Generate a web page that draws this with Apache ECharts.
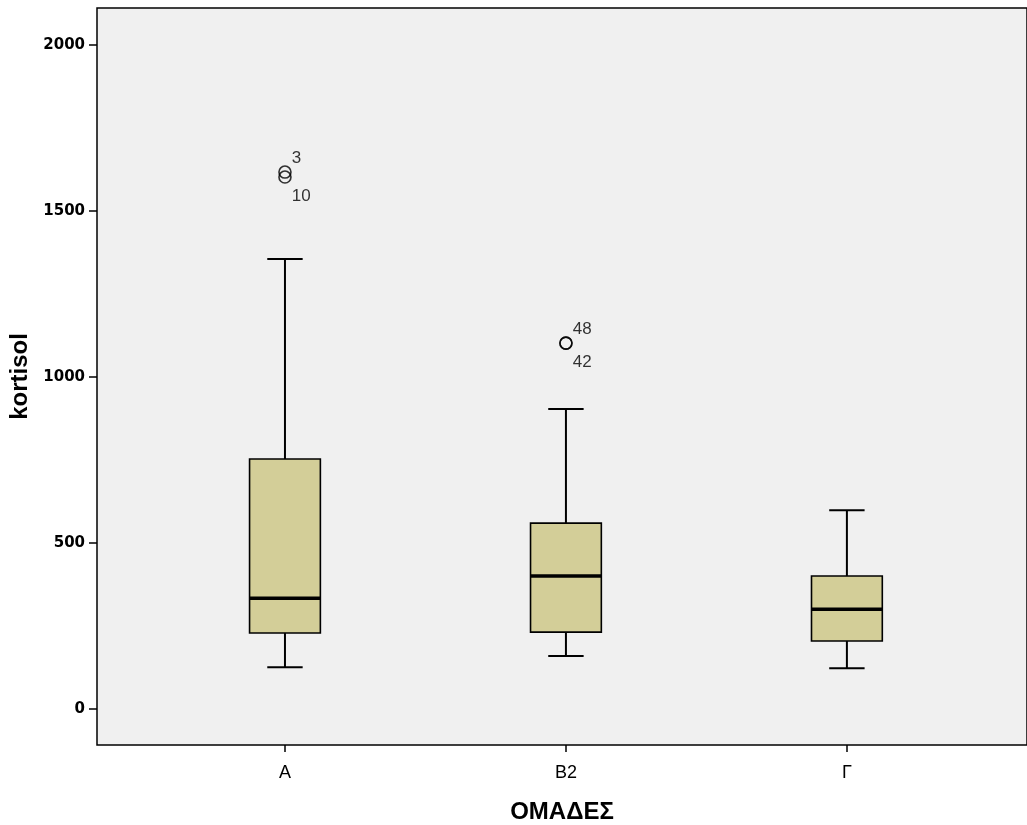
<!DOCTYPE html>
<html>
<head>
<meta charset="utf-8">
<script src="https://cdn.jsdelivr.net/npm/echarts@6/dist/echarts.min.js"></script>
<style>
  html, body { margin: 0; padding: 0; background: #fff; }
  #chart { width: 1027px; height: 825px; }
</style>
</head>
<body>
<div id="chart"></div>
<script>
// groups on the x axis (position 1, 2, 3)
var groups = ['A', 'B2', 'Γ'];
var whiskerLow = [126, 160, 123];
var q1 = [229, 232, 205];
var medians = [334, 401, 301];
var q3 = [753, 560, 401];
var whiskerHigh = [1355, 904, 599];

// outliers: group position, value, case id
var outlierGroup = [1, 1, 2, 2];
var outlierValues = [1617, 1602, 1102, 1102];
var outlierIds = ['3', '10', '48', '42'];

var yTicks = [0, 500, 1000, 1500, 2000];
var xTicks = [1, 2, 3];

(function() {
  var chart = echarts.init(document.getElementById('chart'), null, { renderer: 'canvas' });

  var boxData = groups.map(function(g, i) {
    return [i + 1, whiskerLow[i], q1[i], medians[i], q3[i], whiskerHigh[i]];
  });

  // first of each pair labelled above, second below
  var outlierData = outlierValues.map(function(v, i) {
    var above = i === 0 || outlierGroup[i - 1] !== outlierGroup[i];
    return {
      value: [outlierGroup[i], v],
      label: { offset: above ? [-2, -14] : [-2, 19] }
    };
  });

  function renderBox(params, api) {
    var x = api.value(0);
    var unit = api.size([1, 0])[0];
    var half = unit * 0.126;
    var cap = unit * 0.063;
    var lo = api.coord([x, api.value(1)]);
    var b1 = api.coord([x, api.value(2)]);
    var md = api.coord([x, api.value(3)]);
    var b3 = api.coord([x, api.value(4)]);
    var hi = api.coord([x, api.value(5)]);
    var cx = lo[0];
    var ls = { stroke: '#000', lineWidth: 2 };
    return {
      type: 'group',
      children: [
        { type: 'line', shape: { x1: cx, y1: hi[1], x2: cx, y2: b3[1] }, style: ls },
        { type: 'line', shape: { x1: cx, y1: b1[1], x2: cx, y2: lo[1] }, style: ls },
        { type: 'line', shape: { x1: cx - cap, y1: hi[1], x2: cx + cap, y2: hi[1] }, style: ls },
        { type: 'line', shape: { x1: cx - cap, y1: lo[1], x2: cx + cap, y2: lo[1] }, style: ls },
        {
          type: 'rect',
          shape: { x: cx - half, y: b3[1], width: half * 2, height: b1[1] - b3[1] },
          style: { fill: '#d3ce98', stroke: '#000', lineWidth: 1.6 }
        },
        { type: 'line', shape: { x1: cx - half, y1: md[1], x2: cx + half, y2: md[1] }, style: { stroke: '#000', lineWidth: 3.5 } }
      ]
    };
  }

  var option = {
    animation: false,
    backgroundColor: '#fff',
    grid: {
      left: 97, right: 0, top: 8, bottom: 80,
      outerBoundsMode: 'none',
      containLabel: false,
      show: true,
      backgroundColor: '#f0f0f0',
      borderColor: '#000',
      borderWidth: 1.5
    },
    xAxis: {
      type: 'value',
      min: 0.331,
      max: 3.641,
      name: 'ΟΜΑΔΕΣ',
      nameLocation: 'middle',
      nameGap: 55,
      nameTextStyle: { fontFamily: '"Liberation Sans", Arial, sans-serif', fontWeight: 'bold', fontSize: 24, color: '#000' },
      axisLine: { show: false, onZero: false },
      splitLine: { show: false },
      axisTick: { show: true, customValues: xTicks, length: 7, lineStyle: { color: '#000', width: 1.5 } },
      axisLabel: {
        customValues: xTicks,
        margin: 19,
        color: '#000',
        fontFamily: '"Liberation Sans", Arial, sans-serif',
        fontSize: 18,
        formatter: function(v) { return groups[Math.round(v) - 1]; }
      }
    },
    yAxis: {
      type: 'value',
      min: -108,
      max: 2111,
      name: 'kortisol',
      nameLocation: 'middle',
      nameGap: 57,
      nameTextStyle: { fontFamily: '"Liberation Sans", Arial, sans-serif', fontWeight: 'bold', fontSize: 24, color: '#000' },
      axisLine: { show: false, onZero: false },
      splitLine: { show: false },
      axisTick: { show: true, customValues: yTicks, length: 8, lineStyle: { color: '#000', width: 1.5 } },
      axisLabel: {
        customValues: yTicks,
        margin: 12,
        color: '#000',
        fontFamily: '"DejaVu Sans", sans-serif',
        fontWeight: 'bold',
        fontSize: 15,
        formatter: function(v) { return String(v); }
      }
    },
    series: [
      {
        type: 'custom',
        renderItem: renderBox,
        encode: { x: 0, y: [1, 2, 3, 4, 5] },
        data: boxData,
        z: 2
      },
      {
        type: 'scatter',
        symbol: 'circle',
        symbolSize: 12,
        itemStyle: { color: 'rgba(0,0,0,0)', borderColor: '#000', borderWidth: 1.6 },
        label: {
          show: true,
          position: 'right',
          distance: 2,
          color: '#000',
          fontFamily: '"Liberation Sans", Arial, sans-serif',
          fontSize: 17,
          formatter: function(p) { return outlierIds[p.dataIndex]; }
        },
        data: outlierData,
        z: 3
      }
    ]
  };

  chart.setOption(option);
  window.addEventListener('resize', function() { chart.resize(); });
})();
</script>
</body>
</html>
